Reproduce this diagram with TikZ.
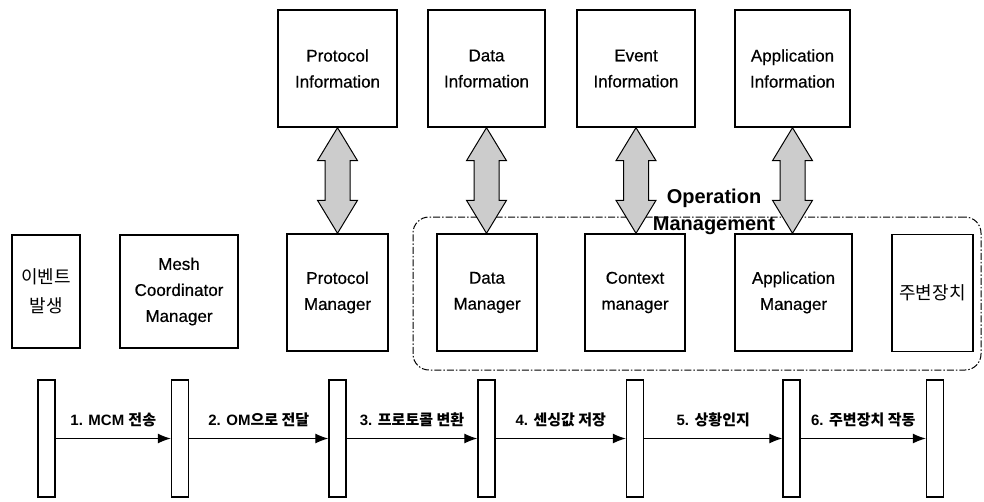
\documentclass[tikz,border=0pt]{standalone}
\usepackage{fontspec}
\setmainfont{Liberation Sans}
\newfontfamily\boxfont[FakeBold=0.5]{Liberation Sans}
\newfontfamily\kr{Noto Sans CJK KR}
\usetikzlibrary{arrows.meta,calc}

% thick two-headed link from the bottom of one box to the top of another
\newcommand\fatlink[2]{%
  \path[fat] let \p1=(#1.south), \p2=(#2.north) in
    (\x1,\y1) -- ++(20pt,-33pt) -- ++(-7.5pt,0pt) -- (\x1+12.5pt,\y2+33pt)
    -- ++(7.5pt,0pt) -- (\x1,\y2) -- ++(-20pt,33pt) -- ++(7.5pt,0pt)
    -- (\x1-12.5pt,\y1-33pt) -- ++(-7.5pt,0pt) -- cycle;}

\begin{document}
\begin{tikzpicture}[x=1pt,y=-1pt,
  box/.style={draw, line width=1.4pt, minimum height=117pt, inner sep=0pt,
    align=center, font=\boxfont\fontsize{17}{26}\selectfont},
  krbox/.style={box, font=\kr\fontsize{18}{29}\selectfont},
  life/.style={draw, line width=1.3pt, minimum width=17pt, minimum height=117pt, inner sep=0pt},
  msg/.style={line width=1.2pt, -{Latex[length=13pt,width=10pt]}},
  lbl/.style={font=\fontsize{15}{18}\selectfont\bfseries, inner sep=0pt, above=11pt},
  fat/.style={draw, line width=1pt, fill=gray!40},
  opbox/.style={draw, line width=1pt, rounded corners=16pt,
    dash pattern=on 7pt off 2pt on 1.5pt off 2pt, inner sep=0pt}]

\useasboundingbox (0,0) rectangle (984,501);

% information stores
\node[box, minimum width=119pt] (pinfo) at (337.5,68.5) {Protocol\\Information};
\node[box, minimum width=117pt] (dinfo) at (486.5,68.5) {Data\\Information};
\node[box, minimum width=118pt] (einfo) at (636,68.5) {Event\\Information};
\node[box, minimum width=115pt] (ainfo) at (792.5,68.5) {Application\\Information};

% operation management group
\node[opbox, minimum width=568pt, minimum height=153pt] (opm) at (697,293.5) {};

% components
\node[krbox, minimum width=68pt, minimum height=113pt] (evt) at (46,291.5) {이벤트\\발생};
\node[box, minimum width=118pt, minimum height=113pt] (mcm) at (179,291.5) {Mesh\\Coordinator\\Manager};
\node[box, minimum width=101pt] (pm) at (337.5,292.5) {Protocol\\Manager};
\node[box, minimum width=100pt] (dm) at (487,292.5) {Data\\Manager};
\node[box, minimum width=100pt] (cm) at (635,292.5) {Context\\manager};
\node[box, minimum width=117pt] (am) at (793.5,292.5) {Application\\Manager};
\node[krbox, minimum width=81pt] (per) at (932.5,293) {주변장치};

% links between stores and managers
\fatlink{pinfo}{pm}
\fatlink{dinfo}{dm}
\fatlink{einfo}{cm}
\fatlink{ainfo}{am}

\node[font=\fontsize{20}{27}\selectfont\bfseries, align=center, inner sep=0pt] (oplbl)
  at (714,212) {Operation\\Management};

% sequence lifelines
\node[life] (l1) at (46.5,438.5) {};
\node[life] (l2) at (180,438.5) {};
\node[life] (l3) at (337.5,438.5) {};
\node[life] (l4) at (486.5,438.5) {};
\node[life] (l5) at (635,438.5) {};
\node[life] (l6) at (791.5,438.5) {};
\node[life] (l7) at (935,438.5) {};

% messages
\draw[msg] (l1.east) -- node[lbl] {1. MCM {\kr 전송}} (l2.west);
\draw[msg] (l2.east) -- node[lbl] {2. OM{\kr 으로 전달}} (l3.west);
\draw[msg] (l3.east) -- node[lbl] {3. {\kr 프로토콜 변환}} (l4.west);
\draw[msg] (l4.east) -- node[lbl] {4. {\kr 센싱값 저장}} (l5.west);
\draw[msg] (l5.east) -- node[lbl] {5. {\kr 상황인지}} (l6.west);
\draw[msg] (l6.east) -- node[lbl] {6. {\kr 주변장치 작동}} (l7.west);
\end{tikzpicture}
\end{document}
